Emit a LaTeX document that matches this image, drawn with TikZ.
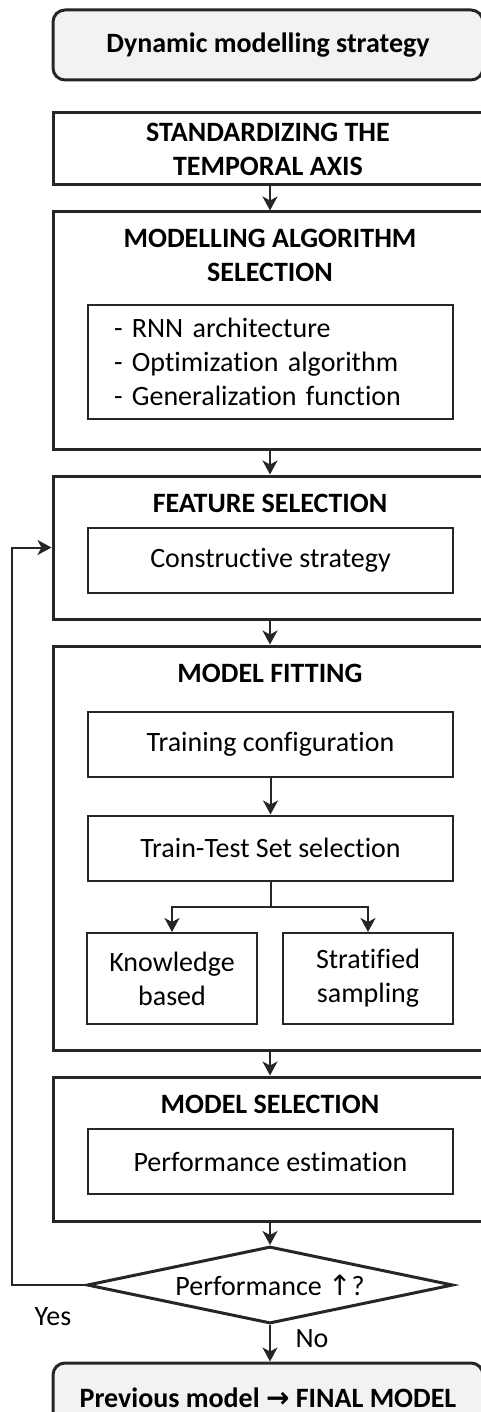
\documentclass[tikz,border=0pt]{standalone}
\usepackage{fontspec}
\setmainfont{Carlito}[Ligatures=NoCommon]
\newfontfamily\arrowfont{DejaVu Sans}
\usetikzlibrary{shapes.geometric,arrows.meta}
\definecolor{boxline}{HTML}{262626}
\definecolor{boxfill}{HTML}{F2F2F2}
\newcommand{\flowsize}{\fontsize{28}{34}\selectfont}

\tikzset{
  outerbox/.style={draw=boxline, line width=3pt, minimum width=430pt, inner sep=0pt},
  innerbox/.style={draw=boxline, line width=2pt, minimum width=365pt, minimum height=65pt, inner sep=0pt},
  roundbox/.style={outerbox, rounded corners=12pt, fill=boxfill, minimum height=70pt, font=\flowsize\bfseries},
  title/.style={font=\flowsize\bfseries, align=center},
  decision/.style={draw=boxline, line width=3pt, diamond, aspect=4.75, minimum width=366pt, minimum height=77pt, inner sep=0pt},
  flow/.style={draw=boxline, line width=2pt, -{Stealth[length=14pt,width=15pt,inset=4pt]}},
}

\begin{document}
\begin{tikzpicture}[x=1pt, y=-1pt, font=\flowsize]
	\useasboundingbox (0,0) rectangle (480,1412);
	% start and time axis
	\node[roundbox] (start) at (268,45) {Dynamic modelling strategy};
	\node[outerbox, minimum height=72pt, title] (std) at (268,149) {STANDARDIZING THE\\TEMPORAL AXIS};
	% modelling algorithm
	\node[outerbox, minimum height=237pt] (mas) at (268,330.5) {};
	\node[title] (masT) at (270,255.5) {MODELLING ALGORITHM\\SELECTION};
	\node[innerbox, minimum height=114pt, text width=313pt, inner xsep=26pt, align=left] (masL) at (270.5,362) {- RNN architecture\\- Optimization algorithm\\- Generalization function};
	% feature selection
	\node[outerbox, minimum height=143pt] (fsel) at (268,547.5) {};
	\node[title] (fselT) at (270,503) {FEATURE SELECTION};
	\node[innerbox] (cons) at (270.5,560.5) {Constructive strategy};
	% model fitting
	\node[outerbox, minimum height=404pt] (mfit) at (268,848) {};
	\node[title] (mfitT) at (270,673) {MODEL FITTING};
	\node[innerbox] (tconf) at (270.5,744.5) {Training configuration};
	\node[innerbox] (ttsel) at (270.5,848) {Train-Test Set selection};
	\node[innerbox, minimum width=170pt, minimum height=91pt, align=center] (know) at (172,978.5) {Knowledge\\based};
	\node[innerbox, minimum width=170pt, minimum height=91pt, align=center] (strat) at (368,978.5) {Stratified\\sampling};
	% model selection
	\node[outerbox, minimum height=144pt] (msel) at (268,1149) {};
	\node[title] (mselT) at (270,1104) {MODEL SELECTION};
	\node[innerbox] (perf) at (270.5,1161.5) {Performance estimation};
	% decision and end
	\node[decision] (dec) at (270,1285) {Performance {\arrowfont ↑}?};
	\node[roundbox] (final) at (268,1398) {Previous model {\arrowfont\bfseries →} FINAL MODEL};
	\node (yes) at (53,1317) {Yes};
	\node (no) at (312,1339) {No};
	\coordinate (loop) at (12,1285);
	% connectors
	\draw[flow] (std.south -| dec) -- (mas.north -| dec);
	\draw[flow] (mas.south -| dec) -- (fsel.north -| dec);
	\draw[flow] (fsel.south -| dec) -- (mfit.north -| dec);
	\draw[flow] (tconf) -- (ttsel);
	\draw[draw=boxline, line width=2pt] (ttsel.south) -- ++(0,25) coordinate (fork);
	\draw[flow] (fork) -| (know.north);
	\draw[flow] (fork) -| (strat.north);
	\draw[flow] (mfit.south -| dec) -- (msel.north -| dec);
	\draw[flow] (msel.south -| dec) -- (dec);
	\draw[flow] (dec) -- (final.north -| dec);
	\draw[flow] (dec.west) -- (loop) |- (fsel.west);
\end{tikzpicture}
\end{document}
